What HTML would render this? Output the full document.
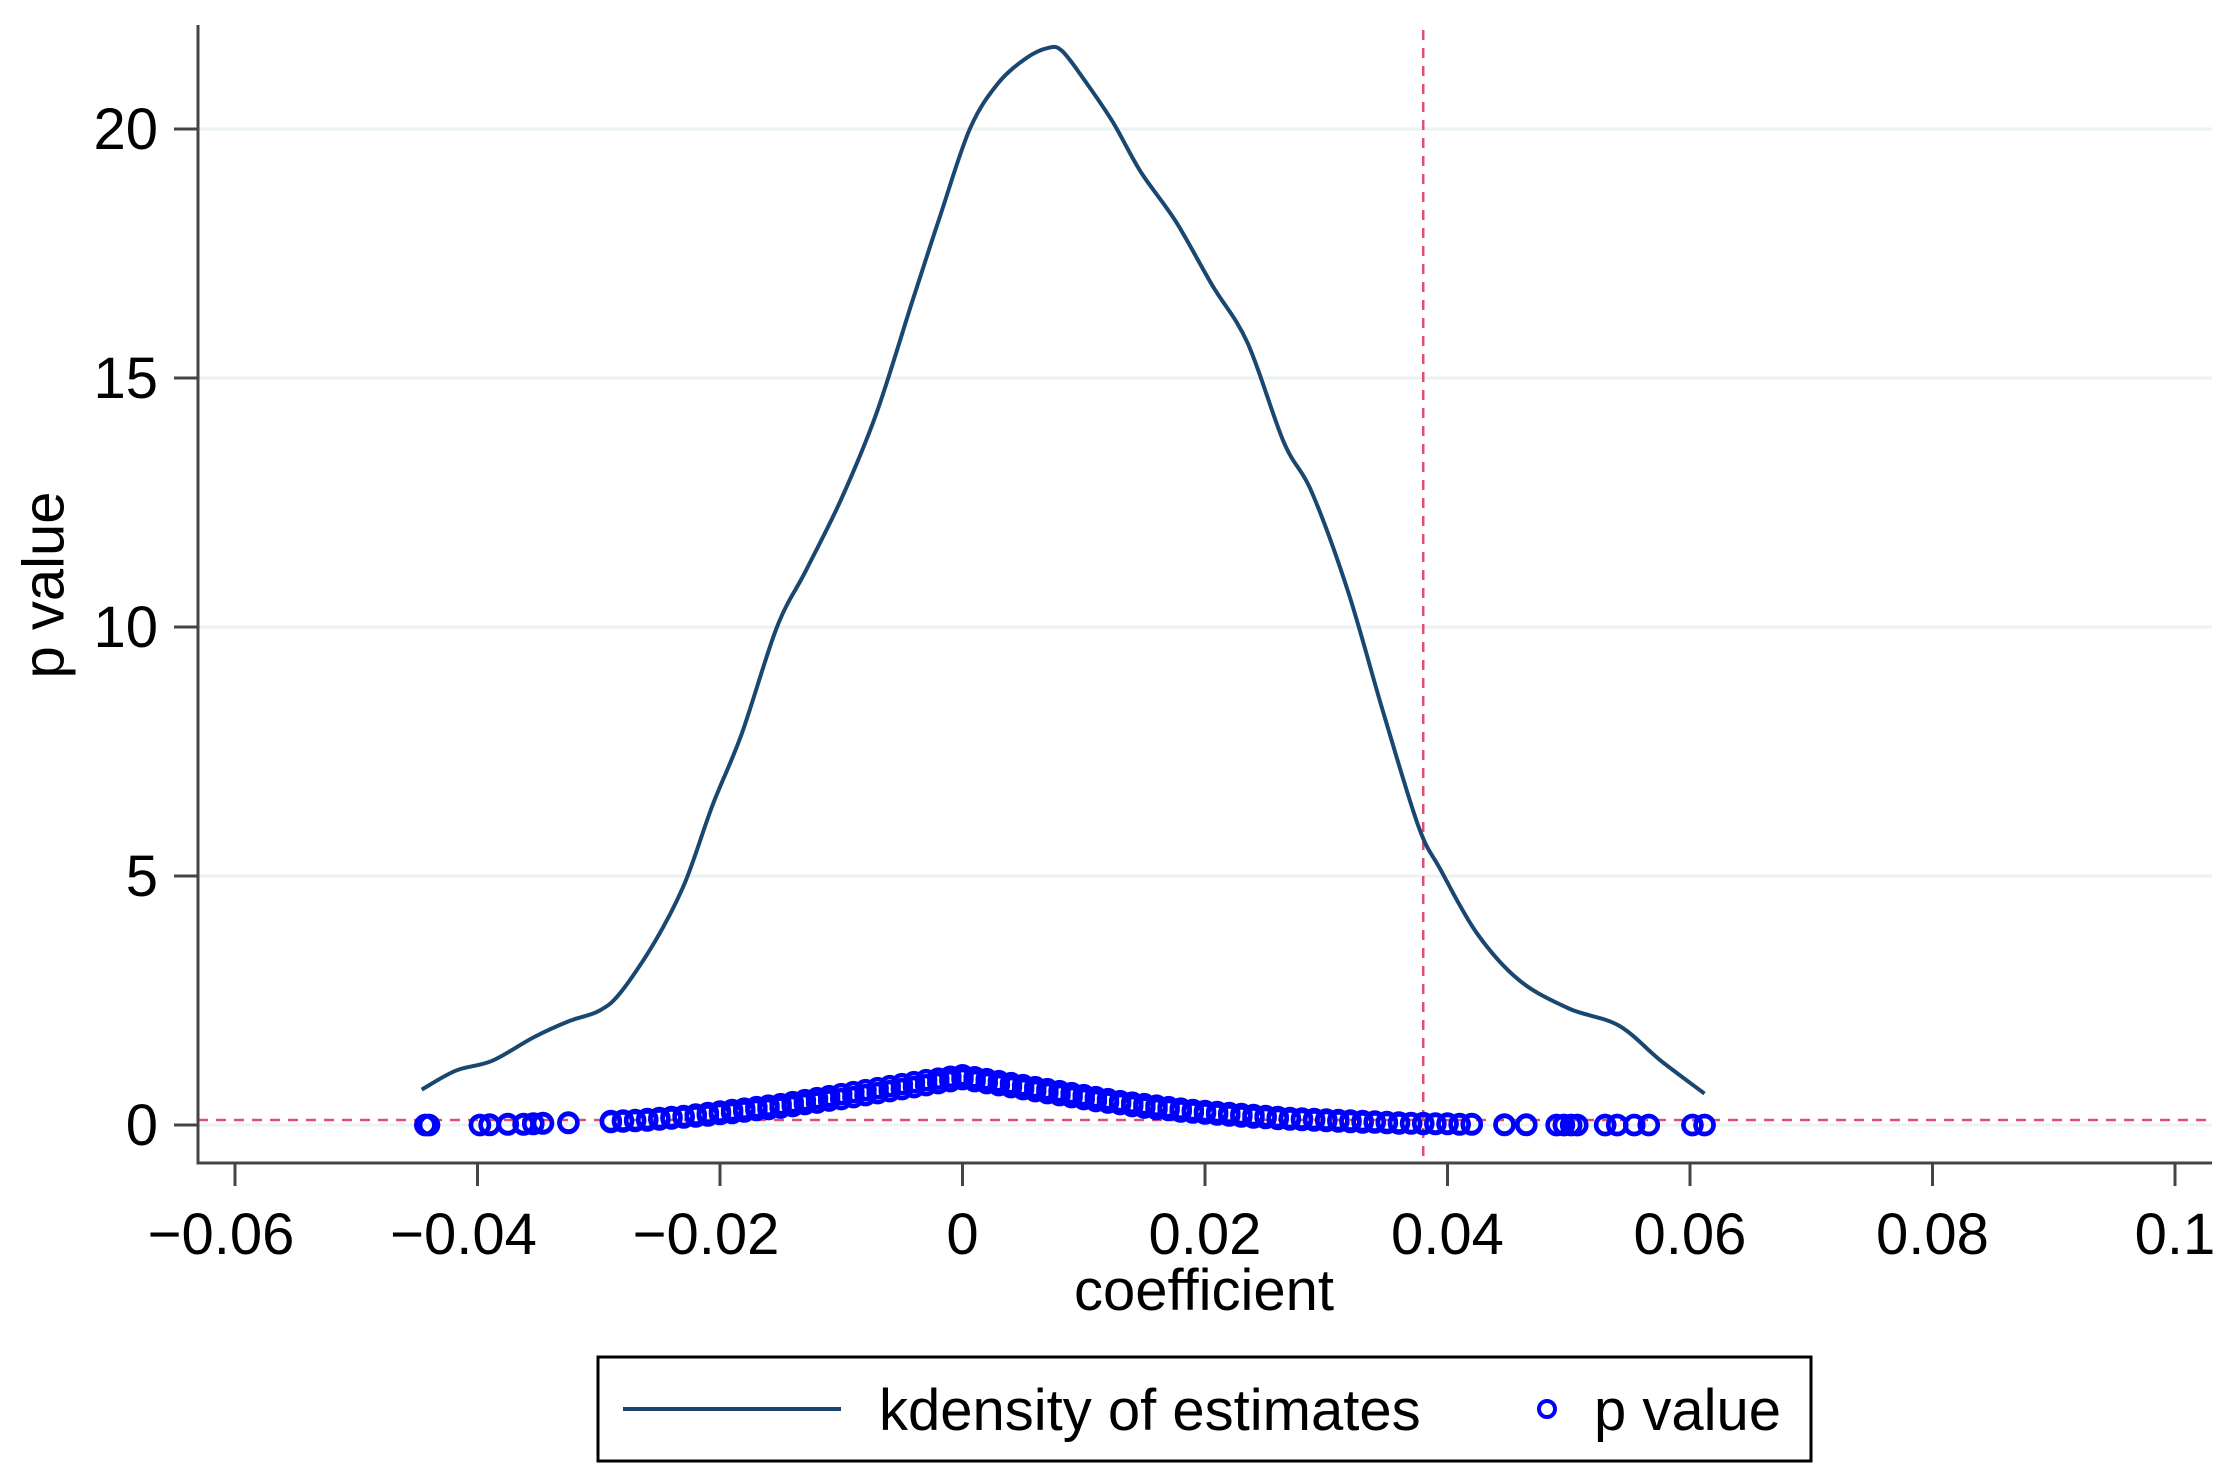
<!DOCTYPE html>
<html><head><meta charset="utf-8"><style>
html,body{margin:0;padding:0;background:#fff}
svg{display:block}
text{font-family:"Liberation Sans",Arial,sans-serif;fill:#000}
</style></head><body>
<svg id="chart" width="2235" height="1483" viewBox="0 0 2235 1483">
<g id="grid"></g>
<g id="refs"></g>
<g id="density"></g>
<g id="points"></g>
<g id="axes"></g>
<text x="48" y="585" font-size="58" text-anchor="middle" transform="rotate(-90 48 585)" dominant-baseline="middle">p value</text>
<text x="1204" y="1310" font-size="58" text-anchor="middle">coefficient</text>
<g>
<rect x="598" y="1357" width="1213" height="104" fill="#fff" stroke="#000" stroke-width="3"/>
<line x1="623" y1="1409" x2="841" y2="1409" stroke="#1a476f" stroke-width="4"/>
<text x="879" y="1430" font-size="58">kdensity of estimates</text>
<circle cx="1547" cy="1409" r="8" fill="none" stroke="#0000ff" stroke-width="4"/>
<text x="1594" y="1430" font-size="58">p value</text>
</g>
</svg>
<script>
const xTicks=[-0.06,-0.04,-0.02,0,0.02,0.04,0.06,0.08,0.1];
const xTickLabels=["\u22120.06","\u22120.04","\u22120.02","0","0.02","0.04","0.06","0.08","0.1"];
const yTicks=[0,5,10,15,20];
const yTickLabels=["0","5","10","15","20"];
const refX=0.038;
const refY=0.1;
const densX=[-0.0446,-0.0418,-0.0388,-0.0353,-0.0324,-0.030,-0.0282,-0.0253,-0.0229,-0.0206,-0.0182,-0.0153,-0.0129,-0.010,-0.0071,-0.0041,-0.0018,0.0006,0.0029,0.0053,0.0071,0.0082,0.010,0.0124,0.0147,0.0176,0.0206,0.0235,0.0265,0.0288,0.0318,0.0347,0.0376,0.0394,0.0424,0.0459,0.050,0.0541,0.0576,0.0612];
const densY=[0.71,1.09,1.29,1.77,2.09,2.29,2.66,3.71,4.86,6.43,7.86,10,11.14,12.57,14.29,16.57,18.29,20,20.91,21.43,21.63,21.57,21,20.14,19.14,18.14,16.86,15.71,13.71,12.71,10.71,8.29,6,5.14,3.86,2.91,2.34,2.0,1.29,0.63];
const pX=[-0.0443,-0.0440,-0.0398,-0.0390,-0.0375,-0.0362,-0.0354,-0.0346,-0.0325,-0.029,-0.028,-0.027,-0.026,-0.025,-0.024,-0.023,-0.022,-0.021,-0.020,-0.019,-0.018,-0.017,-0.016,-0.015,-0.014,-0.013,-0.012,-0.011,-0.010,-0.009,-0.008,-0.007,-0.006,-0.005,-0.004,-0.003,-0.002,-0.001,0,0.001,0.002,0.003,0.004,0.005,0.006,0.007,0.008,0.009,0.010,0.011,0.012,0.013,0.014,0.015,0.016,0.017,0.018,0.019,0.020,0.021,0.022,0.023,0.024,0.025,0.026,0.027,0.028,0.029,0.030,0.031,0.032,0.033,0.034,0.035,0.036,0.037,0.038,0.039,0.040,0.041,0.042,0.0447,0.0465,0.0490,0.0496,0.0502,0.0507,0.0530,0.0540,0.0554,0.0566,0.0602,0.0612];
const pY=[0.0,0.0,0.0,0.01,0.02,0.02,0.03,0.04,0.05,0.08,0.09,0.10,0.12,0.14,0.16,0.18,0.21,0.24,0.27,0.30,0.33,0.36,0.39,0.42,0.46,0.50,0.54,0.58,0.62,0.66,0.70,0.74,0.78,0.82,0.86,0.90,0.93,0.97,1.0,0.96,0.92,0.88,0.84,0.80,0.76,0.72,0.68,0.64,0.60,0.56,0.52,0.48,0.45,0.42,0.39,0.36,0.33,0.30,0.28,0.26,0.24,0.22,0.20,0.18,0.16,0.14,0.13,0.12,0.11,0.10,0.09,0.08,0.07,0.06,0.05,0.04,0.04,0.03,0.03,0.02,0.02,0.01,0.01,0.0,0.0,0.0,0.0,0.0,0.0,0.0,0.0,0.0,0.0];
const pY2=[0.0,0.0,0.0,0.0,0.01,0.01,0.02,0.03,0.04,0.06,0.07,0.08,0.09,0.11,0.13,0.15,0.17,0.19,0.22,0.24,0.27,0.30,0.32,0.35,0.38,0.42,0.45,0.49,0.52,0.56,0.60,0.64,0.68,0.72,0.76,0.80,0.84,0.88,0.92,0.88,0.84,0.80,0.76,0.72,0.68,0.64,0.60,0.56,0.52,0.48,0.45,0.42,0.38,0.35,0.32,0.30,0.27,0.25,0.23,0.21,0.19,0.17,0.15,0.14,0.12,0.11,0.10,0.09,0.08,0.07,0.06,0.05,0.05,0.04,0.03,0.03,0.02,0.02,0.02,0.01,0.01,0.0,0.0,0.0,0.0,0.0,0.0,0.0,0.0,0.0,0.0,0.0,0.0];
const NS="http://www.w3.org/2000/svg";
const X0=198,XR=2212,YB=1163,YT=25;
function sx(v){return 962.5+(v/0.02)*242.5;}
function sy(v){return 1125-v*49.8;}
function mk(tag,attrs,parent){const e=document.createElementNS(NS,tag);for(const k in attrs)e.setAttribute(k,attrs[k]);parent.appendChild(e);return e;}
const grid=document.getElementById('grid'),axes=document.getElementById('axes'),refs=document.getElementById('refs'),dens=document.getElementById('density'),pts=document.getElementById('points');
yTicks.forEach((t,i)=>{
 const g=mk('line',{x1:X0,x2:XR,y1:sy(t),y2:sy(t),stroke:'#eaf2f3','stroke-width':3},grid);
 
 
 const tk=mk('line',{x1:174,x2:X0,y1:sy(t),y2:sy(t),stroke:'#444','stroke-width':3},axes);
 
 
 const tx=mk('text',{x:158,y:sy(t)+20,'font-size':58,'text-anchor':'end'},axes);
 tx.textContent=yTickLabels[i];
 
 
});
xTicks.forEach((t,i)=>{
 const tk=mk('line',{x1:sx(t),x2:sx(t),y1:YB,y2:1186,stroke:'#444','stroke-width':3},axes);
 
 
 const tx=mk('text',{x:sx(t)-(t<0?14:0),y:1254,'font-size':58,'text-anchor':'middle'},axes);
 tx.textContent=xTickLabels[i];
 
 
});
const ya=mk('line',{x1:X0,x2:X0,y1:YT,y2:YB+1.5,stroke:'#444','stroke-width':3},axes);


const xa=mk('line',{x1:X0,x2:XR,y1:YB,y2:YB,stroke:'#444','stroke-width':3},axes);


const rv=mk('line',{x1:sx(refX),x2:sx(refX),y1:YT+5,y2:YB,stroke:'#e0506e','stroke-width':2.5,'stroke-dasharray':'10 8'},refs);


const rh=mk('line',{x1:X0,x2:XR,y1:sy(refY),y2:sy(refY),stroke:'#e0506e','stroke-width':2.5,'stroke-dasharray':'10 8'},refs);


const P=densX.map((x,i)=>[sx(x),sy(densY[i])]);
let d='M'+P[0][0].toFixed(1)+' '+P[0][1].toFixed(1);
for(let i=0;i<P.length-1;i++){
 const p0=P[Math.max(0,i-1)],p1=P[i],p2=P[i+1],p3=P[Math.min(P.length-1,i+2)];
 const c1=[p1[0]+(p2[0]-p0[0])/6,p1[1]+(p2[1]-p0[1])/6];
 const c2=[p2[0]-(p3[0]-p1[0])/6,p2[1]-(p3[1]-p1[1])/6];
 d+=' C'+c1[0].toFixed(1)+' '+c1[1].toFixed(1)+' '+c2[0].toFixed(1)+' '+c2[1].toFixed(1)+' '+p2[0].toFixed(1)+' '+p2[1].toFixed(1);
}
const pl=mk('path',{d:d,fill:'none',stroke:'#1a476f','stroke-width':4,'stroke-linejoin':'round'},dens);


[pY,pY2].forEach(arr=>{
 pX.forEach((x,i)=>{
  const c=mk('circle',{cx:sx(x),cy:sy(arr[i]),r:9,fill:'none',stroke:'#0000ff','stroke-width':4.5},pts);
  
  
 });
});
</script>
</body></html>
